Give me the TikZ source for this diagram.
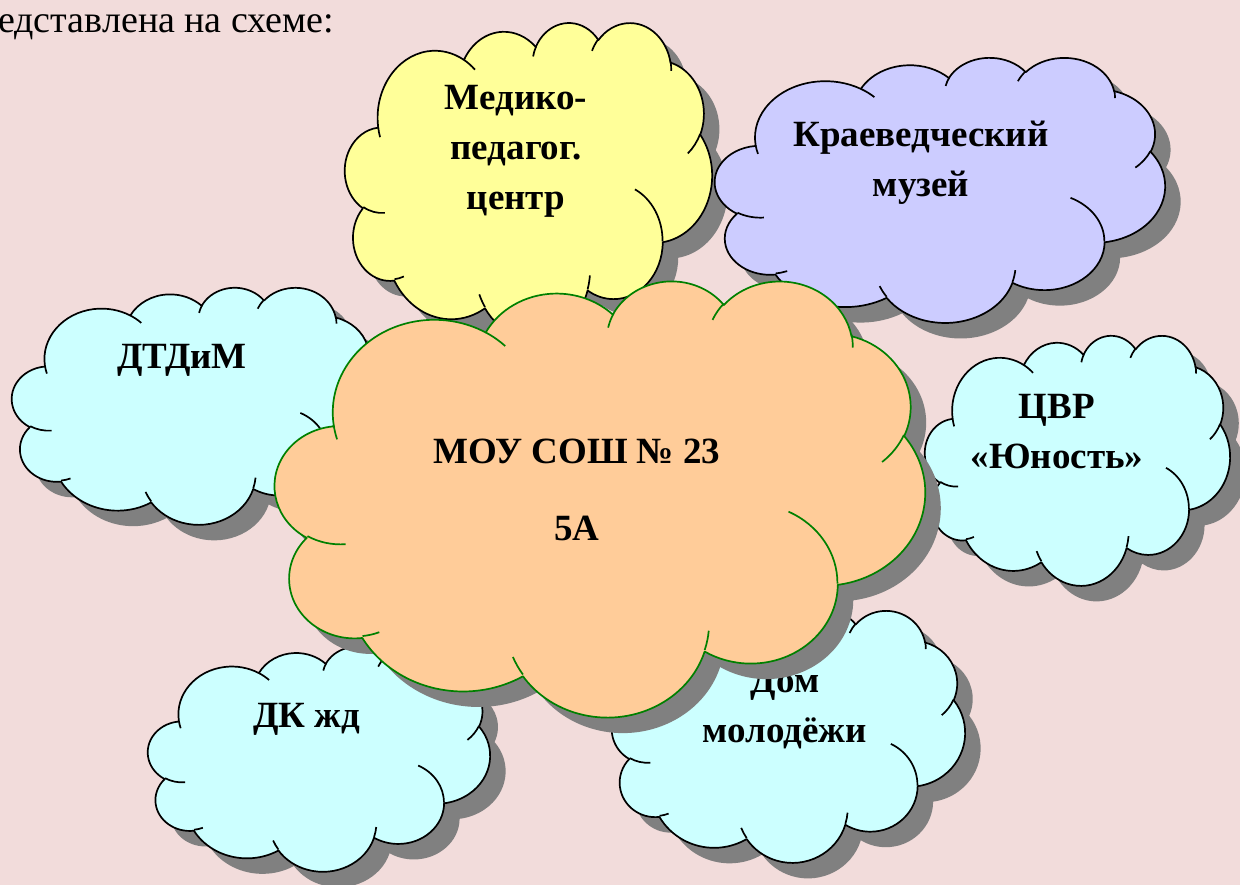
\documentclass[tikz,border=0pt]{standalone}
\usepackage{fontspec}
\setmainfont{Liberation Serif}
\definecolor{bgpink}{RGB}{242,220,219}
\definecolor{shadowgray}{RGB}{128,128,128}
\definecolor{cyellow}{RGB}{255,255,153}
\definecolor{cpurple}{RGB}{204,204,255}
\definecolor{ccyan}{RGB}{204,255,255}
\definecolor{corange}{RGB}{255,204,153}
\definecolor{cgreen}{RGB}{0,128,0}

% convert DrawingML visual angles to parametric angles
\newcommand\cprep[5]{%
  \pgfmathsetmacro\cpA{atan2((#2)*sin(#4),(#3)*cos(#4))}%
  \pgfmathsetmacro\cpB{atan2((#2)*sin((#4)+(#5)),(#3)*cos((#4)+(#5)))}%
  \pgfmathsetmacro\cpD{mod((\cpB)-(\cpA)+720,360)}%
  \expandafter\xdef\csname qs#1\endcsname{\cpA}%
  \expandafter\xdef\csname qd#1\endcsname{\cpD}%
}
\cprep{A}{6.753}{9.190}{-190.487483}{123.780533}
\cprep{B}{5.333}{7.267}{-144.102383}{89.945233}
\cprep{C}{4.365}{5.945}{-145.807917}{99.723017}
\cprep{D}{4.857}{6.595}{-130.986067}{117.241733}
\cprep{E}{5.333}{7.273}{-78.708883}{109.026917}
\cprep{F}{6.775}{9.220}{-46.26725}{130.269}
\cprep{G}{5.785}{7.867}{0.625017}{114.033333}
\cprep{H}{6.752}{9.215}{22.4516}{115.17255}
\cprep{I}{7.720}{10.543}{66.242633}{75.711017}
\cprep{J}{4.360}{5.918}{-274.942083}{146.735567}
\cprep{K}{4.345}{5.945}{-246.8285}{152.51885}
\cprep{a}{4.345}{5.945}{86.742}{26.4295}
\cprep{b}{4.360}{5.918}{73.61047}{11.44747}
\cprep{c}{6.752}{9.215}{137.62415}{14.0811}
\cprep{d}{6.752}{9.215}{6.45327}{15.99835}
\cprep{e}{5.785}{7.867}{-70.29235}{70.917367}
\cprep{f}{5.333}{7.273}{30.318033}{27.7515}
\cprep{g}{4.857}{6.595}{-13.74433}{14.85358}
\cprep{h}{4.857}{6.595}{-149.18145}{18.18763}
\cprep{i}{4.365}{5.945}{-163.49427}{17.69788}
\cprep{j}{6.753}{9.190}{-66.70695}{12.31935}
\cprep{k}{6.753}{9.190}{157.65435}{11.85817}

\def\cloudoutline{(3.900,14.370)
 arc[x radius=6.753,y radius=9.190,start angle=\qsA,delta angle=\qdA]
 arc[x radius=5.333,y radius=7.267,start angle=\qsB,delta angle=\qdB]
 arc[x radius=4.365,y radius=5.945,start angle=\qsC,delta angle=\qdC]
 arc[x radius=4.857,y radius=6.595,start angle=\qsD,delta angle=\qdD]
 arc[x radius=5.333,y radius=7.273,start angle=\qsE,delta angle=\qdE]
 arc[x radius=6.775,y radius=9.220,start angle=\qsF,delta angle=\qdF]
 arc[x radius=5.785,y radius=7.867,start angle=\qsG,delta angle=\qdG]
 arc[x radius=6.752,y radius=9.215,start angle=\qsH,delta angle=\qdH]
 arc[x radius=7.720,y radius=10.543,start angle=\qsI,delta angle=\qdI]
 arc[x radius=4.360,y radius=5.918,start angle=\qsJ,delta angle=\qdJ]
 arc[x radius=4.345,y radius=5.945,start angle=\qsK,delta angle=\qdK]
 -- cycle}
\def\cloudinner{(4.693,26.177) arc[x radius=4.345,y radius=5.945,start angle=\qsa,delta angle=\qda]
 (6.928,34.899) arc[x radius=4.360,y radius=5.918,start angle=\qsb,delta angle=\qdb]
 (16.478,39.090) arc[x radius=6.752,y radius=9.215,start angle=\qsc,delta angle=\qdc]
 (28.827,34.751) arc[x radius=6.752,y radius=9.215,start angle=\qsd,delta angle=\qdd]
 (34.129,22.954) arc[x radius=5.785,y radius=7.867,start angle=\qse,delta angle=\qde]
 (41.798,15.354) arc[x radius=5.333,y radius=7.273,start angle=\qsf,delta angle=\qdf]
 (38.324,5.426) arc[x radius=4.857,y radius=6.595,start angle=\qsg,delta angle=\qdg]
 (29.078,3.952) arc[x radius=4.857,y radius=6.595,start angle=\qsh,delta angle=\qdh]
 (22.141,4.720) arc[x radius=4.365,y radius=5.945,start angle=\qsi,delta angle=\qdi]
 (14.000,5.192) arc[x radius=6.753,y radius=9.190,start angle=\qsj,delta angle=\qdj]
 (4.127,15.789) arc[x radius=6.753,y radius=9.190,start angle=\qsk,delta angle=\qdk]}

% #1 x0, #2 y0, #3 width, #4 height, #5 fill, #6 outline
\newcommand\drawcloud[6]{%
  \pgfmathsetmacro\cwx{(#3)/43.2}%
  \pgfmathsetmacro\cwy{(#4)/43.2}%
  \begin{scope}[shift={(#1+15.5,#2+15.5)},x=\cwx pt,y=-\cwy pt]
    \fill[shadowgray] \cloudoutline;
  \end{scope}
  \begin{scope}[shift={(#1,#2)},x=\cwx pt,y=-\cwy pt]
    \filldraw[fill=#5,draw=#6,cloudline] \cloudoutline;
    \draw[draw=#6,cloudline] \cloudinner;
  \end{scope}%
}

\tikzset{
  cloudline/.style={line width=1.7pt,line join=round},
  lbl/.style={font=\fontsize{37}{50}\selectfont\bfseries,inner sep=0pt,anchor=base,text=black},
}

\begin{document}
\begin{tikzpicture}[x=1pt,y=-1pt]
\fill[bgpink] (0,0) rectangle (1240,885);
\useasboundingbox (0,0) rectangle (1240,885);

\node[anchor=base west,inner sep=0pt,font=\fontsize{38}{46}\selectfont] (intro) at (-2,33) {едставлена на схеме:};

% ДТДиМ
\drawcloud{12}{287}{365}{237}{ccyan}{black}
\node[lbl] (dtdim) at (182,369) {ДТДиМ};

% Медико-педагог. центр
\drawcloud{345}{22}{367}{315}{cyellow}{black}
\node[lbl] (med) at (516,110) {\begin{tabular}[t]{@{}c@{}}Медико-\\педагог.\\центр\end{tabular}};

% Краеведческий музей
\drawcloud{715}{57}{450}{265}{cpurple}{black}
\node[lbl] (muz) at (921,147) {\begin{tabular}[t]{@{}c@{}}Краеведческий\\музей\end{tabular}};

% ЦВР «Юность»
\drawcloud{925}{335}{305}{250}{ccyan}{black}
\node[lbl] (cvr) at (1057,418) {\begin{tabular}[t]{@{}c@{}}ЦВР\\«Юность»\end{tabular}};

% ДК жд
\drawcloud{148}{646}{342}{225}{ccyan}{black}
\node[lbl] (dk) at (307,727) {ДК жд};

% Дом молодёжи
\drawcloud{612}{610}{353}{252}{ccyan}{black}
\node[lbl] (dom) at (785,692) {\begin{tabular}[t]{@{}c@{}}Дом\\молодёжи\end{tabular}};

% МОУ СОШ № 23
\drawcloud{275}{280}{650}{436}{corange}{cgreen}
\node[lbl] (school) at (577,463) {\begin{tabular}[t]{@{}c@{}}МОУ СОШ № 23\\[27pt]5А\end{tabular}};
\end{tikzpicture}
\end{document}
